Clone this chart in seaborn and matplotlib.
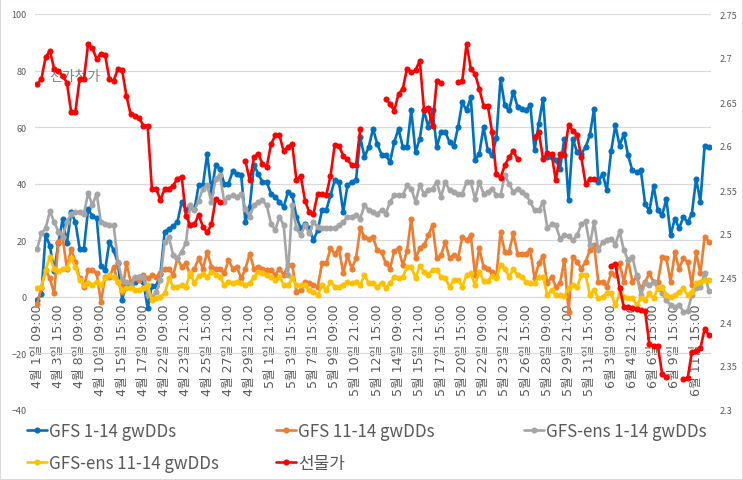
import numpy as np
import pandas as pd
import seaborn as sns
import matplotlib.pyplot as plt
from matplotlib.lines import Line2D
from matplotlib.patches import Rectangle

# x축 라벨 (5개 지점마다 하나)
labels = ["4월 1일 09:00", "4월 3일 15:00", "4월 8일 09:00", "4월 10일 09:00", "4월 15일 15:00",
          "4월 17일 09:00", "4월 22일 09:00", "4월 23일 21:00", "4월 25일 15:00", "4월 27일 21:00",
          "4월 29일 21:00", "5월 1일 21:00", "5월 3일 15:00", "5월 7일 15:00", "5월 9일 09:00",
          "5월 10일 21:00", "5월 12일 15:00", "5월 14일 09:00", "5월 15일 21:00", "5월 17일 15:00",
          "5월 20일 15:00", "5월 22일 09:00", "5월 23일 21:00", "5월 26일 15:00", "5월 28일 09:00",
          "5월 29일 21:00", "5월 31일 15:00", "6월 3일 09:00", "6월 4일 21:00", "6월 6일 15:00",
          "6월 9일 15:00", "6월 11일 15:00"]

gfs_1_14 = [-1, 1, 22, 18, 9, 19, 27.5, 19, 30, 26.5,
            17, 17, 31, 28.5, 28, 11, 9.5, 19.5, 16.5, 12,
            -1, 5, 3.5, 5.3, 7, 5.3, -4, 4, 4, 8,
            23, 24, 25, 26.5, 33.6, 30.6, 32, 31, 39.4, 39.4,
            50.6, 37.1, 46.5, 45.3, 40, 40, 44.4, 43.5, 43, 26.5,
            31.8, 46.5, 43.5, 40.6, 40.6, 36.5, 35.3, 33.6, 31.8, 37.1,
            35.9, 28.3, 24.2, 25.9, 24.2, 20, 23.6, 30.6, 30.6, 35.9,
            41.2, 40.6, 30, 39.4, 40.6, 41.2, 56.5, 49.4, 53, 59.4,
            54.1, 50.3, 50, 47.7, 54.7, 59.4, 53, 53, 65.9, 51.2,
            55.9, 65.9, 60, 65.9, 53, 58.3, 58.3, 54.7, 53.3, 60,
            68.8, 65.9, 70.6, 48.3, 50.6, 60, 51.8, 50, 56, 77.1,
            67.7, 65.9, 72.6, 67.1, 66.5, 65.9, 67.9, 51.8, 61.2, 70,
            49.4, 49.4, 48.3, 45.3, 55.9, 34.1, 55.9, 51.2, 50.6, 53,
            57.1, 66.5, 40.6, 43.5, 37.7, 51.4, 60.6, 53.5, 57.7, 50,
            44.7, 44.1, 44.7, 33, 30.3, 39.2, 30.6, 28.9, 34.5, 21.8,
            27.7, 24.2, 28.3, 26.3, 29.4, 41.8, 33.6, 53.5, 53]

gfs_11_14 = [-2.5, 3, 9.5, 6.5, 1.2, 19.5, 21, 10, 17, 12.4,
             6.5, 3.6, 9.5, 9.5, 8.3, -1.7, 7, 7, 10.6, 5.3,
             1.8, 11.8, 5.3, 6.5, 5.9, 7.7, 6.5, 7.7, 7, 8.3,
             10, 10, 7.7, 13.6, 10.6, 11.8, 7.7, 10, 13.6, 10,
             15.9, 10.6, 10, 10, 8.3, 13, 10, 10.6, 6.5, 10,
             15.3, 10, 10.6, 10, 9.5, 9.5, 7.7, 10, 7.7, 11.2,
             11.2, 1.8, 2.4, 5.3, 4.8, 4.2, 3.6, 11.8, 11.8, 17.1,
             15.3, 17.1, 8.3, 14.7, 10, 13.6, 24.2, 21.2, 20.6, 21,
             16.5, 15.9, 11.8, 10, 16.2, 17.1, 11.2, 16.2, 27.7, 13.6,
             17.1, 18.3, 21.8, 25.3, 13.6, 14.7, 19.5, 13.6, 14.7, 13.6,
             21.2, 20, 21.8, 7.7, 17.1, 10.6, 10, 8.9, 7.1, 23,
             15.9, 15.9, 22.4, 15.3, 15.3, 15.3, 16.5, 6.5, 11.8, 14.5,
             4.8, 7.1, 3.6, 4.8, 13, -5.2, 14.2, 12.4, 10, 12.4,
             16.5, 18.3, 5.3, 5.3, 3.6, 8.3, 7.7, 11.8, 5.3, 13,
             5.3, 7.1, 3, 5.3, 8.3, 5.3, 5.3, 14.2, 13.6, 5.3,
             15.7, 10, 13.6, 12.4, 4.2, 15.7, 8.3, 21.2, 19.5]

ens_1_14 = [17, 22.4, 24.2, 30.3, 26.5, 23, 21.2, 26.5, 29.4, 30,
            30, 29.4, 36.7, 32.4, 36.5, 26.5, 25.9, 25.3, 25.3, 12.4,
            6, 5.3, 4.2, 7, 7, 7, 0.6, 0, 1.8, 6,
            19.5, 21, 14.7, 13.6, 16, 19, 32.4, 30.6, 34, 38.3,
            39.4, 33.6, 41.8, 43, 33.6, 35.3, 35.9, 35.3, 36.5, 31.2,
            28.3, 32.4, 33.6, 34.1, 32.4, 25.9, 23.6, 28.3, 25.3, 7.7,
            32.4, 24.2, 21.8, 25.3, 22.4, 26.5, 24.7, 24.2, 24.2, 24.2,
            24.2, 25.3, 26.5, 28.3, 28.3, 28.9, 27.7, 32.4, 30.6, 30,
            29.4, 30.6, 29.4, 33.6, 35.9, 35.9, 35.9, 39.4, 38.3, 33.6,
            39.4, 36.5, 37.7, 38.3, 40.6, 35.3, 40.6, 37.7, 37.1, 36.5,
            36.5, 40.6, 40.6, 34.7, 40.6, 36.5, 37.1, 38.3, 35.9, 35.9,
            43, 40, 37.1, 38.3, 37.1, 35.9, 33.6, 30.6, 30.6, 33.6,
            24.5, 25.6, 25.3, 20.6, 21.8, 21.6, 20, 21.8, 25.6, 26.7,
            18.3, 26.5, 16.5, 19.5, 20, 20.6, 18.5, 23.2, 16.5, 13,
            14.2, 7.7, 0.6, 4.8, 4.2, 5.3, 3, 1.2, -1.1, -2.9,
            -3.5, -2.9, -5.2, -5, 0.6, 3, 3.5, 8.5, 2]

ens_11_14 = [3, 3.6, 9.5, 14.2, 10, 9, 10, 10.3, 13.6, 10.6,
             6, 4.2, 4.8, 4.2, 5.3, 4.2, 6.5, 7.7, 7, 5.3,
             2.4, 3, 3, 2.4, 2.4, 3, 4.2, -1, -0.5, 0,
             1.2, 6.5, 3.6, 3.6, 4.2, 3.6, 8.3, 4.8, 7.5, 8,
             7.1, 8.9, 7.7, 7.1, 4.2, 5.3, 4.8, 5.1, 4.8, 4.2,
             4.8, 7.1, 8.9, 8.3, 7.7, 7.1, 5.9, 7.1, 4.2, 4.2,
             6.5, 4.2, 4.2, 4.2, 2.4, 1.8, 0.6, 4.2, 2.4, 5.3,
             3.6, 3.6, 4.2, 5.3, 4.8, 5.3, 4.2, 7.7, 4.8, 4.8,
             3.6, 4.8, 3.2, 4.8, 7.1, 6.5, 7.1, 10.6, 10.6, 6.5,
             11, 8.9, 7.9, 9.5, 9.5, 7.1, 6.5, 3.6, 5.9, 5.9,
             3.6, 7.7, 8.3, 4.2, 8.9, 5.6, 5.6, 7.5, 6.5, 11.2,
             10, 7.1, 9.8, 7.7, 7.1, 5.3, 4.8, 4.8, 7.1, 7.1,
             0.6, 2.4, 0.6, 0.6, 0.4, 3, 4.2, 3.6, 7.7, 7.9,
             0.6, 2.4, -0.5, 0, 1.2, 1.2, -2.9, 1.2, 0, -0.5,
             -0.3, -2.9, -0.5, -1.1, 1.2, -0.5, 3, 3.6, 0.6, 0,
             0.6, 1.8, 3, 0.6, 1.8, 4.8, 5.3, 5.9, 5.9]

# 선물가 (오른쪽 축), None = 값 없음
price = [2.670, 2.676, 2.701, 2.708, 2.688, 2.685, 2.680, 2.672, 2.639, 2.639,
         2.676, 2.676, 2.716, 2.711, 2.699, 2.705, 2.703, 2.676, 2.674, 2.688,
         2.686, 2.657, 2.636, 2.634, 2.632, 2.623, 2.623, 2.551, 2.551, 2.539,
         2.551, 2.551, 2.555, 2.563, 2.565, 2.521, 2.510, 2.511, 2.522, 2.508,
         2.502, 2.511, 2.540, 2.536, None, None, None, None, None, 2.583,
         2.561, 2.587, 2.591, 2.580, 2.576, 2.602, 2.612, 2.612, 2.594, 2.599,
         2.602, 2.561, 2.566, 2.538, 2.525, 2.523, 2.546, 2.546, 2.544, 2.566,
         2.601, 2.600, 2.589, 2.585, 2.578, 2.578, 2.619, None, None, None,
         None, None, 2.653, 2.648, 2.640, 2.659, 2.665, 2.688, 2.684, 2.686,
         2.697, 2.641, 2.643, 2.623, 2.674, 2.672, None, None, None, 2.673,
         2.674, 2.716, 2.688, 2.682, 2.665, 2.646, 2.646, 2.616, 2.568, 2.564,
         2.578, 2.587, 2.594, 2.585, None, None, None, 2.610, 2.616, 2.585,
         2.592, 2.591, 2.561, 2.591, 2.590, 2.624, 2.617, 2.613, 2.587, 2.557,
         2.562, 2.562, None, None, None, 2.464, 2.466, 2.439, 2.417, 2.417,
         2.416, 2.415, 2.414, 2.412, 2.375, 2.373, 2.373, 2.341, 2.338, None,
         None, None, 2.335, 2.336, 2.366, 2.367, 2.370, 2.392, 2.385]

names = ["GFS 1-14 gwDDs", "GFS 11-14 gwDDs", "GFS-ens 1-14 gwDDs", "GFS-ens 11-14 gwDDs"]
colors = ["#0070C0", "#ED7D31", "#A5A5A5", "#FFC000"]
red = "#FF0000"

sns.set_style("white")
plt.rcParams['font.family'] = ['Noto Sans CJK KR', 'DejaVu Sans']

n = len(gfs_1_14)
idx = np.arange(n)
df = pd.DataFrame({'idx': idx, names[0]: gfs_1_14, names[1]: gfs_11_14,
                   names[2]: ens_1_14, names[3]: ens_11_14})
long_df = df.melt(id_vars='idx', var_name='series', value_name='val')

price_df = pd.DataFrame({'idx': idx, 'price': pd.Series(price, dtype=float)})
price_df['seg'] = price_df['price'].isna().cumsum()
price_df = price_df.dropna()

fig = plt.figure(figsize=(7.43, 4.81), dpi=100)
ax = fig.add_axes([35/743, 70/481, 676/743, 396/481])

line_kw = dict(marker='o', markersize=4.4, markeredgewidth=0, linewidth=1.9)
sns.lineplot(data=long_df, x='idx', y='val', hue='series', hue_order=names,
             palette=colors, legend=False, ax=ax, **line_kw)

ax.set_xlim(-0.5, n - 0.5)
ax.set_ylim(-40, 100)
ax.set_yticks(range(-40, 101, 20))
ax.grid(axis='y', color='#d9d9d9', lw=0.9)
ax.grid(axis='x', visible=False)
ax.set_axisbelow(True)
for s in ax.spines.values():
    s.set_visible(False)
ax.spines['bottom'].set_position(('data', 0))
ax.set_xticks(idx[::5])
ax.set_xticklabels(labels, rotation=90, family=['DejaVu Sans', 'Noto Sans CJK KR'])
ax.tick_params(axis='x', length=0, pad=5, labelsize=9.1, labelcolor='#595959')
ax.tick_params(axis='y', length=0, pad=6, labelsize=6.5, labelcolor='#595959')
ax.set_xlabel('')
ax.set_ylabel('')

ax.text(75/743, 1 - 77/481, "천가천가", transform=fig.transFigure, ha='center', va='center',
        fontsize=10, color='#808080', zorder=1)

ax2 = ax.twinx()
sns.lineplot(data=price_df, x='idx', y='price', units='seg', estimator=None,
             color=red, ax=ax2, **line_kw)
ax2.set_ylim(2.3, 2.75)
rt = np.round(np.arange(2.3, 2.7501, 0.05), 2)
ax2.set_yticks(rt)
ax2.set_yticklabels([f"{v:g}" for v in rt])
ax2.tick_params(axis='y', length=0, pad=6, labelsize=6.5, labelcolor='#595959')
ax2.grid(False)
for s in ax2.spines.values():
    s.set_visible(False)
ax2.set_ylabel('')

# 범례
entries = [(names[0], colors[0], 27, 432), (names[1], colors[1], 276, 432),
           (names[2], colors[2], 524, 432), (names[3], colors[3], 27, 464),
           ("선물가", red, 276, 464)]
for lab, c, x0, y0 in entries:
    h = Line2D([0], [0], color=c, lw=1.9, marker='o', markersize=4.4, markeredgewidth=0)
    fig.legend(handles=[h], labels=[lab], loc='center left',
               bbox_to_anchor=(x0/743, 1 - y0/481), frameon=False, borderpad=0,
               borderaxespad=0, handlelength=1.2, handletextpad=0.12,
               fontsize=12.2, labelcolor='#595959')

fig.patches.append(Rectangle((0, 0), 1, 1, transform=fig.transFigure, fill=False,
                             edgecolor='#d9d9d9', lw=1.5))

fig.savefig("out.png", dpi=100)
